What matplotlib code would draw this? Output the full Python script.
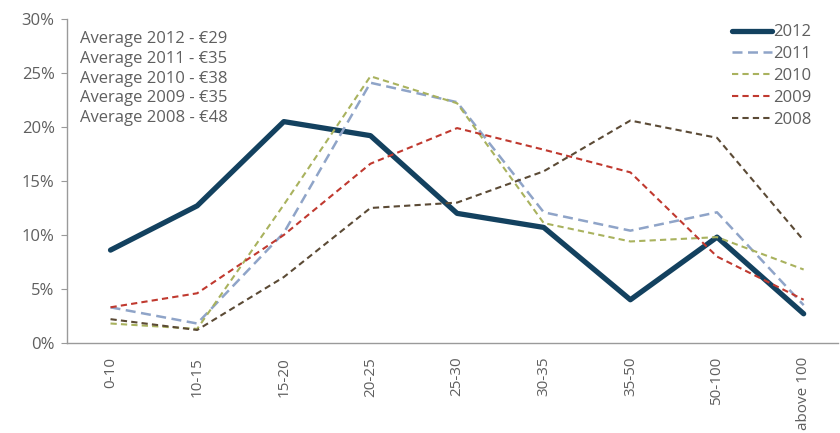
import numpy as np
import matplotlib
matplotlib.use('Agg')
import matplotlib.pyplot as plt
from matplotlib.ticker import FuncFormatter

plt.rcParams['font.family'] = ['Open Sans', 'DejaVu Sans']

bands = ['0-10', '10-15', '15-20', '20-25', '25-30', '30-35', '35-50', '50-100', 'above 100']

y2012 = [8.6, 12.7, 20.5, 19.2, 12.0, 10.7, 4.0, 9.8, 2.7]
y2011 = [3.3, 1.8, 10.2, 24.1, 22.3, 12.1, 10.4, 12.1, 3.5]
y2010 = [1.8, 1.3, 12.8, 24.7, 22.2, 11.1, 9.4, 9.8, 6.8]
y2009 = [3.3, 4.6, 10.0, 16.6, 19.9, 17.9, 15.8, 8.0, 4.0]
y2008 = [2.2, 1.2, 6.1, 12.5, 13.0, 15.9, 20.6, 19.0, 9.5]

averages = [('2012', 29), ('2011', 35), ('2010', 38), ('2009', 35), ('2008', 48)]

grey = '#5f5f5f'

fig = plt.figure(figsize=(8.4, 4.33), dpi=100)
ax = fig.add_axes([0.080, 0.208, 0.918, 0.748])

x = np.arange(len(bands))
ax.plot(x, np.array(y2012) / 100, color='#13415f', lw=3.8, solid_capstyle='round', label='2012')
ax.plot(x, np.array(y2011) / 100, color='#8fa4c8', lw=1.8, dashes=(4, 2.2), label='2011')
ax.plot(x, np.array(y2010) / 100, color='#a9b25e', lw=1.5, dashes=(3, 2), label='2010')
ax.plot(x, np.array(y2009) / 100, color='#c0392f', lw=1.5, dashes=(3, 2), label='2009')
ax.plot(x, np.array(y2008) / 100, color='#5b4a35', lw=1.5, dashes=(3, 2), label='2008')

ax.set_xlim(-0.5, 8.4)
ax.set_ylim(0, 0.30)
ax.set_yticks(np.arange(0, 0.31, 0.05))
ax.yaxis.set_major_formatter(FuncFormatter(lambda v, p: '{:.0f}%'.format(v * 100)))
ax.set_xticks(x)
ax.set_xticklabels(bands, rotation=90)

for s in ['top', 'right']:
    ax.spines[s].set_visible(False)
for s in ['left', 'bottom']:
    ax.spines[s].set_color('#9a9a9a')
    ax.spines[s].set_linewidth(1.0)
ax.tick_params(axis='y', colors='#9a9a9a', labelcolor=grey, labelsize=12, length=4, pad=5)
ax.tick_params(axis='x', length=0, labelcolor=grey, labelsize=11, pad=10)

# averages block, top left of the plot
txt = '\n'.join('Average {} - \u20ac{}'.format(yr, v) for yr, v in averages)
ax.text(0.017, 0.962, txt, transform=ax.transAxes, va='top', ha='left',
        fontsize=12, color=grey, linespacing=1.3)

leg = ax.legend(loc='upper right', bbox_to_anchor=(0.985, 1.03), frameon=False,
                fontsize=12, handlelength=2.4, handletextpad=0.1,
                labelspacing=0.35, labelcolor=grey)

fig.savefig('out.png', dpi=100)
